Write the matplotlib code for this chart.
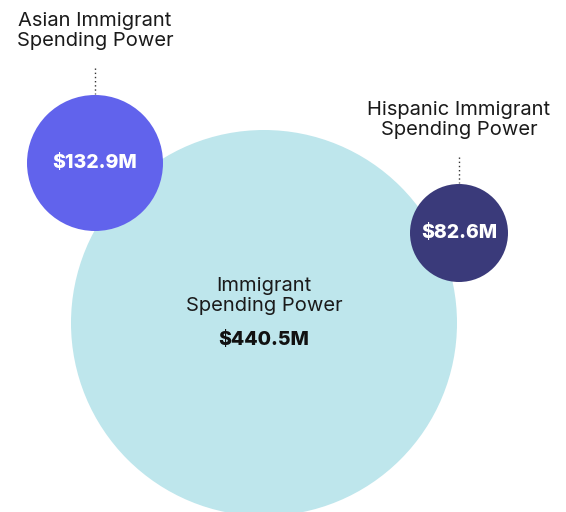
import matplotlib.pyplot as plt
from matplotlib.patches import Circle

# values (millions of dollars)
groups = ["Immigrant\nSpending Power", "Asian Immigrant\nSpending Power", "Hispanic Immigrant\nSpending Power"]
values = [440.5, 132.9, 82.6]
colors = ["#bee6ec", "#6163ec", "#3a3a7a"]

plt.rcParams['font.family'] = ['Inter', 'DejaVu Sans']

fig = plt.figure(figsize=(5.66, 5.12), dpi=100)
ax = fig.add_axes([0, 0, 1, 1])
ax.set_xlim(0, 566)
ax.set_ylim(512, 0)
ax.set_aspect('equal')
ax.axis('off')

# layout: center x, center y, radius in pixels
layout = [(264, 323, 193), (95, 163, 68), (459, 233, 49)]

for (cx, cy, r), c in zip(layout, colors):
    ax.add_patch(Circle((cx, cy), r, facecolor=c, edgecolor='none'))

def money(v):
    return "$%.1fM" % v

# big circle labels inside
cx, cy, r = layout[0]
ax.text(cx, 296, groups[0], ha='center', va='center', fontsize=14.5,
        color='#1a1a1a', linespacing=1.1)
ax.text(cx, 340, money(values[0]), ha='center', va='center', fontsize=14,
        fontweight='heavy', color='#111111')

# small circles: value inside, label above with dotted leader
for i in (1, 2):
    cx, cy, r = layout[i]
    ax.text(cx, cy, money(values[i]), ha='center', va='center', fontsize=14,
            fontweight='heavy', color='white')
    top = cy - r
    ax.plot([cx, cx], [top - 27, top - 1], color='#333333', lw=1,
            linestyle=(0, (1, 2)))
    ax.text(cx, top - 64, groups[i], ha='center', va='center', fontsize=14.5,
            color='#1a1a1a', linespacing=1.1)

plt.savefig("out.png", dpi=100)
